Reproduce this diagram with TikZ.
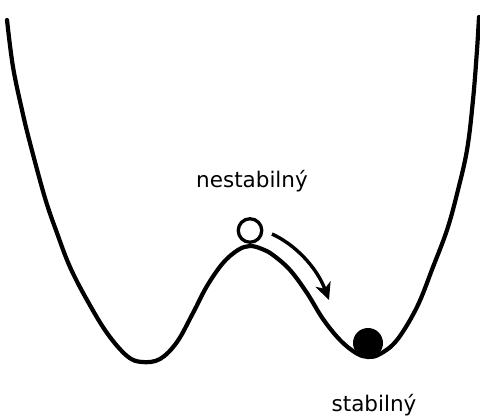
\documentclass[tikz,border=0pt]{standalone}
\usepackage{fontspec}
\setmainfont{DejaVu Sans}
\usetikzlibrary{arrows.meta}
\tikzset{
  curveline/.style={line width=4.2pt, line cap=round, line join=round},
  ballstyle/.style={circle, inner sep=0pt, minimum size=25pt},
  labeltext/.style={font=\fontsize{21.5}{24}\selectfont, inner sep=0pt, anchor=base},
  movearrow/.style={line width=3.4pt, -{Stealth[length=17pt, width=16pt, inset=5pt]}}
}
\begin{document}
\begin{tikzpicture}[x=1pt, y=-1pt]
\useasboundingbox (0,0) rectangle (480,418);
% potential curve
\draw[curveline] plot[smooth, tension=0.6] coordinates {
 (7,20) (13,67) (22,110) (30,143) (45,198) (57,233) (70,267) (87,300)
 (107,333) (127,356) (142,362) (160,359) (177,342) (193,313) (207,286)
 (223,263) (238,250) (250,246) (262,249) (273,255) (290,270) (307,293)
 (323,319) (340,340) (356,353) (368,357) (380,354) (397,340) (417,307)
 (433,267) (447,230) (457,194) (467,150) (473,100) (477,50) (479,17)};
% balls
\node[ballstyle, draw, line width=3.3pt, minimum size=23.5pt, fill=white] (unstable) at (250,230.5) {};
\node[ballstyle, fill=black, minimum size=30pt] (stable) at (368,343) {};
% arrow
\coordinate (arrstart) at (272,234);
\coordinate (arrend) at (329,300);
\draw[movearrow] (arrstart) .. controls (296,245) and (317,268) .. (arrend);
% labels
\node[labeltext] (lblunstable) at (252,187) {nestabilný};
\node[labeltext] (lblstable) at (374,411) {stabilný};
\end{tikzpicture}
\end{document}
